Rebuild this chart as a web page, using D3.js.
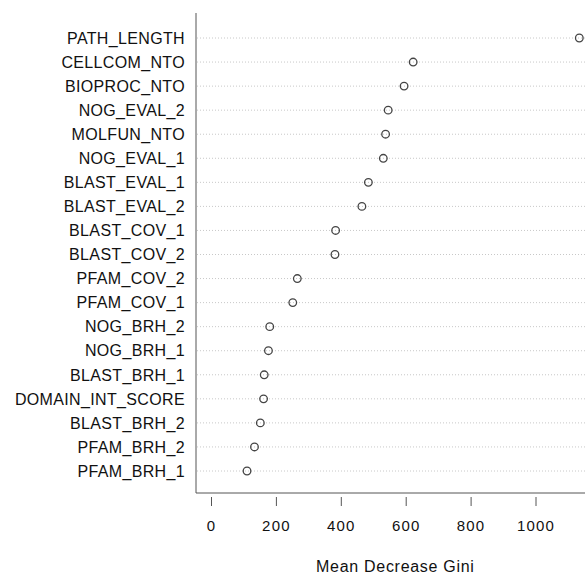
<!DOCTYPE html>
<html>
<head>
<meta charset="utf-8">
<script src="https://cdn.jsdelivr.net/npm/d3@7"></script>
<style>
  body { margin: 0; background: #fff; }
  #chart { width: 585px; height: 575px; }
  text { font-family: "Liberation Sans", Arial, sans-serif; fill: #111; }
</style>
</head>
<body>
<div id="chart"></div>
<script>
//Datos
const variables = ['PATH_LENGTH','CELLCOM_NTO','BIOPROC_NTO','NOG_EVAL_2','MOLFUN_NTO','NOG_EVAL_1',
    'BLAST_EVAL_1','BLAST_EVAL_2','BLAST_COV_1','BLAST_COV_2','PFAM_COV_2','PFAM_COV_1',
    'NOG_BRH_2','NOG_BRH_1','BLAST_BRH_1','DOMAIN_INT_SCORE','BLAST_BRH_2','PFAM_BRH_2','PFAM_BRH_1'];
const gini = [1135, 623, 595, 546, 538, 531, 485, 465, 384, 382, 266, 252, 181, 177, 164, 162, 152, 134, 111];
const xTicks = [0, 200, 400, 600, 800, 1000];

const data = variables.map(function(v, i) { return { name: v, value: gini[i] }; });

let margin = {top: 13, right: 0, bottom: 82, left: 196},
    width = 585 - margin.left - margin.right,
    height = 575 - margin.top - margin.bottom;

let svg = d3.select('#chart')
    .append('svg')
      .attr('width', 585)
      .attr('height', 575)
    .append('g')
      .attr('transform', 'translate(' + margin.left + ',' + margin.top + ')');

let x = d3.scaleLinear()
    .domain([0, 1000])
    .range([15, 339.5]);

let y = d3.scalePoint()
    .domain(variables)
    .range([25, height - 22]);

//Líneas guía
svg.append('g')
    .selectAll('line')
    .data(data)
    .enter()
    .append('line')
      .attr('x1', 1)
      .attr('x2', width)
      .attr('y1', function(d) { return y(d.name); })
      .attr('y2', function(d) { return y(d.name); })
      .attr('stroke', '#c8c8c8')
      .attr('stroke-width', 1)
      .attr('stroke-dasharray', '1,2');

//Ejes
svg.append('line')
    .attr('x1', 0).attr('x2', 0)
    .attr('y1', 0).attr('y2', height)
    .attr('stroke', '#555');
svg.append('line')
    .attr('x1', 0).attr('x2', width)
    .attr('y1', height).attr('y2', height)
    .attr('stroke', '#555');

let xAxis = svg.append('g')
    .attr('transform', 'translate(0,' + (height + 4) + ')')
    .call(d3.axisBottom(x).tickValues(xTicks).tickFormat(d3.format('d')).tickSize(9).tickPadding(14));
xAxis.select('.domain').remove();
xAxis.selectAll('.tick line').attr('stroke', '#555');
xAxis.selectAll('.tick text')
    .attr('font-size', 15)
    .attr('font-family', '"Liberation Sans", Arial, sans-serif')
    .attr('letter-spacing', '1.2px')
    .attr('fill', '#111');

//Etiquetas
svg.append('g')
    .selectAll('text')
    .data(data)
    .enter()
    .append('text')
      .attr('x', -11)
      .attr('y', function(d) { return y(d.name); })
      .attr('dy', '0.36em')
      .attr('text-anchor', 'end')
      .attr('font-size', 16)
      .attr('letter-spacing', '0.35px')
      .text(function(d) { return d.name; });

//Puntos
svg.append('g')
    .selectAll('circle')
    .data(data)
    .enter()
    .append('circle')
      .attr('cx', function(d) { return x(d.value); })
      .attr('cy', function(d) { return y(d.name); })
      .attr('r', 3.8)
      .attr('fill', 'none')
      .attr('stroke', '#444')
      .attr('stroke-width', 1.3);

//Título
svg.append('text')
    .attr('x', x(0) + (x(1000) - x(0)) * 0.568)
    .attr('y', height + 79)
    .attr('text-anchor', 'middle')
    .attr('font-size', 16)
    .attr('letter-spacing', '0.7px')
    .text('Mean Decrease Gini');
</script>
</body>
</html>
